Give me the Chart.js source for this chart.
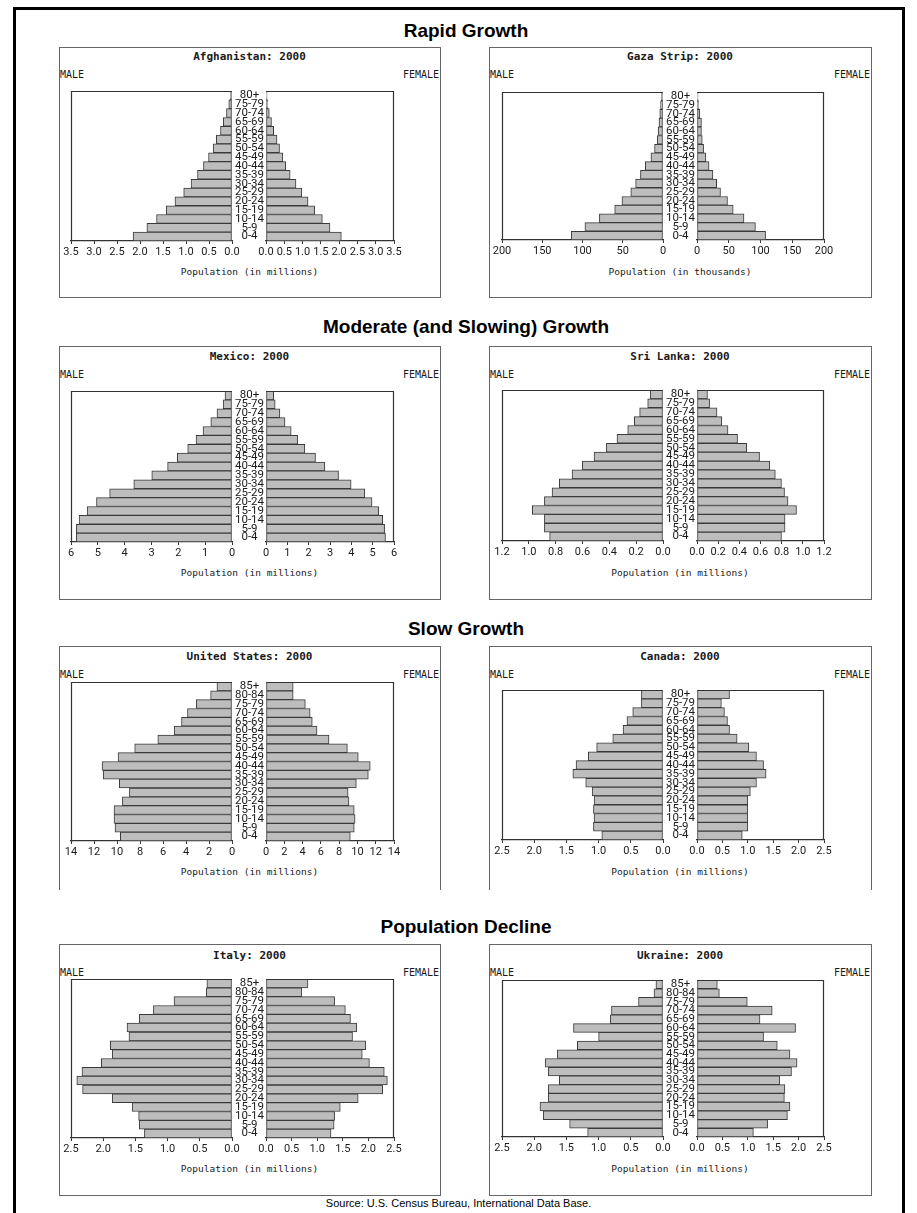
<!DOCTYPE html>
<html><head><meta charset="utf-8">
<script src="https://cdn.jsdelivr.net/npm/chart.js@4.4.1/dist/chart.umd.min.js"></script>
<style>
html,body{margin:0;padding:0;background:#fff;}
body{width:917px;height:1213px;position:relative;overflow:hidden;}
.frame{position:absolute;left:13px;top:7px;width:892px;height:1230px;border:3px solid #000;box-sizing:border-box;}
.sec{position:absolute;left:66px;width:800px;text-align:center;font:bold 19px "Liberation Sans",Arial,sans-serif;color:#000;line-height:20px;height:20px;}
.box{position:absolute;border:1px solid #666;box-sizing:border-box;}
.t{position:absolute;white-space:nowrap;color:#1a1a1a;}
.ptitle{font:bold 11px "DejaVu Sans Mono",monospace;line-height:12px;text-align:center;width:300px;}
.sex{font:10px "DejaVu Sans Mono",monospace;line-height:11px;}
.axt{font:9.5px "DejaVu Sans Mono",monospace;line-height:11px;text-align:center;width:300px;}
.src{position:absolute;left:0;width:917px;text-align:center;font:11px "Liberation Sans",Arial,sans-serif;color:#000;line-height:12px;}
canvas{position:absolute;}
</style></head>
<body>
<div class="frame"></div>
<script>
// ---------- DATA ----------
const ages17 = ['80+','75-79','70-74','65-69','60-64','55-59','50-54','45-49','40-44','35-39','30-34','25-29','20-24','15-19','10-14','5-9','0-4'];
const ages18 = ['85+','80-84','75-79','70-74','65-69','60-64','55-59','50-54','45-49','40-44','35-39','30-34','25-29','20-24','15-19','10-14','5-9','0-4'];

const afghanistanMale   = [0.04,0.07,0.12,0.19,0.25,0.34,0.41,0.51,0.62,0.75,0.89,1.05,1.24,1.43,1.64,1.85,2.15];
const afghanistanFemale = [0.03,0.05,0.09,0.15,0.21,0.30,0.37,0.46,0.54,0.66,0.82,0.98,1.15,1.33,1.54,1.75,2.06];
const gazaMale   = [2,3,4,5,6,7,10.5,15,22,28,34,40,51,60,79,97,114];
const gazaFemale = [1.7,2.5,4.5,7,7,8.3,10.4,14,19,25,31,37,48,57,74,92,108];
const mexicoMale   = [0.26,0.33,0.56,0.79,1.08,1.34,1.65,2.04,2.4,2.99,3.66,4.56,5.05,5.4,5.7,5.8,5.8];
const mexicoFemale = [0.36,0.43,0.65,0.89,1.18,1.49,1.82,2.32,2.76,3.4,3.99,4.63,4.97,5.28,5.47,5.56,5.6];
const sriLankaMale   = [0.094,0.114,0.174,0.214,0.263,0.343,0.422,0.514,0.601,0.678,0.773,0.827,0.884,0.974,0.884,0.884,0.845];
const sriLankaFemale = [0.099,0.119,0.189,0.234,0.293,0.383,0.47,0.591,0.688,0.74,0.798,0.827,0.86,0.94,0.832,0.832,0.798];
const usMale   = [1.31,1.86,3.11,3.87,4.39,5.03,6.45,8.46,9.91,11.3,11.2,9.8,8.92,9.53,10.26,10.26,10.17,9.71];
const usFemale = [2.97,2.97,4.3,4.83,5.06,5.58,6.89,8.9,10.09,11.4,11.19,9.88,8.98,9.07,9.65,9.74,9.65,9.22];
const canadaMale   = [0.335,0.335,0.47,0.56,0.62,0.78,1.03,1.16,1.35,1.40,1.2,1.1,1.07,1.08,1.07,1.08,0.95];
const canadaFemale = [0.64,0.48,0.54,0.6,0.64,0.79,1.02,1.17,1.31,1.36,1.17,1.05,1.0,1.0,1.0,1.0,0.89];
const italyMale   = [0.39,0.40,0.9,1.22,1.44,1.63,1.6,1.89,1.86,2.03,2.33,2.41,2.32,1.86,1.55,1.45,1.44,1.36];
const italyFemale = [0.82,0.70,1.34,1.55,1.65,1.77,1.69,1.95,1.88,2.02,2.31,2.37,2.28,1.8,1.45,1.34,1.33,1.27];
const ukraineMale   = [0.11,0.14,0.38,0.8,0.82,1.39,1.0,1.33,1.64,1.83,1.78,1.61,1.78,1.78,1.91,1.86,1.45,1.17];
const ukraineFemale = [0.4,0.44,0.99,1.48,1.24,1.94,1.31,1.58,1.83,1.97,1.86,1.63,1.73,1.72,1.83,1.78,1.39,1.11];

const ticksAfghanistan = ['0.0','0.5','1.0','1.5','2.0','2.5','3.0','3.5'];
const ticksGaza = ['0','50','100','150','200'];
const ticksMexico = ['0','1','2','3','4','5','6'];
const ticksSriLanka = ['0.0','0.2','0.4','0.6','0.8','1.0','1.2'];
const ticksUS = ['0','2','4','6','8','10','12','14'];
const ticks25 = ['0.0','0.5','1.0','1.5','2.0','2.5'];

const sectionTitles = ['Rapid Growth','Moderate (and Slowing) Growth','Slow Growth','Population Decline'];
const sourceText = 'Source: U.S. Census Bureau, International Data Base.';

// ---------- LAYOUT ----------
const cols = [
  {boxL:59, boxR:441, maleL:71, maleW:161, gap:34, femL:266, femW:162},
  {boxL:489, boxR:872, maleL:502, maleW:161, gap:34, femL:697, femW:161}
];
const rows = [
  {secY:31, boxT:47, boxB:298, titleY:57, sexY:75, axY:272, bottomBorder:true},
  {secY:327, boxT:346, boxB:600, titleY:357, sexY:375, axY:573, bottomBorder:true},
  {secY:629, boxT:646, boxB:890, titleY:657, sexY:675, axY:872, bottomBorder:false},
  {secY:927, boxT:944, boxB:1196, titleY:956, sexY:973, axY:1169, bottomBorder:true}
];
const panels = [
  {row:0,col:0,title:'Afghanistan: 2000',ages:ages17,male:afghanistanMale,female:afghanistanFemale,ticks:ticksAfghanistan,unit:'millions',pT:91,pB:241},
  {row:0,col:1,title:'Gaza Strip: 2000',ages:ages17,male:gazaMale,female:gazaFemale,ticks:ticksGaza,unit:'thousands',pT:92,pB:240},
  {row:1,col:0,title:'Mexico: 2000',ages:ages17,male:mexicoMale,female:mexicoFemale,ticks:ticksMexico,unit:'millions',pT:391,pB:542},
  {row:1,col:1,title:'Sri Lanka: 2000',ages:ages17,male:sriLankaMale,female:sriLankaFemale,ticks:ticksSriLanka,unit:'millions',pT:390,pB:541},
  {row:2,col:0,title:'United States: 2000',ages:ages18,male:usMale,female:usFemale,ticks:ticksUS,unit:'millions',pT:682,pB:841},
  {row:2,col:1,title:'Canada: 2000',ages:ages17,male:canadaMale,female:canadaFemale,ticks:ticks25,unit:'millions',pT:690,pB:840},
  {row:3,col:0,title:'Italy: 2000',ages:ages18,male:italyMale,female:italyFemale,ticks:ticks25,unit:'millions',pT:979,pB:1138},
  {row:3,col:1,title:'Ukraine: 2000',ages:ages18,male:ukraineMale,female:ukraineFemale,ticks:ticks25,unit:'millions',pT:980,pB:1137}
];

function addDiv(cls, text, css){
  const d=document.createElement('div'); d.className=cls; d.textContent=text;
  Object.assign(d.style, css); document.body.appendChild(d); return d;
}

sectionTitles.forEach((s,i)=>addDiv('sec', s, {top:(rows[i].secY-10)+'px'}));
addDiv('src', sourceText, {top:'1197px'});

const outline = {
  id:'outline',
  afterDraw(chart, args, opts){
    const {ctx, chartArea:a} = chart;
    ctx.save(); ctx.strokeStyle='#333'; ctx.lineWidth=1.2; ctx.beginPath();
    if(opts.side==='left'){
      ctx.moveTo(Math.round(a.left)+0.5, a.bottom);
      ctx.lineTo(Math.round(a.left)+0.5, Math.round(a.top)+0.5);
      ctx.lineTo(a.right, Math.round(a.top)+0.5);
    } else {
      ctx.moveTo(a.left, Math.round(a.top)+0.5);
      ctx.lineTo(Math.round(a.right)-0.5, Math.round(a.top)+0.5);
      ctx.lineTo(Math.round(a.right)-0.5, a.bottom);
    }
    ctx.stroke(); ctx.restore();
  }
};

const PADT = 16, XAXH = 22, PADS = 14;
const tickFont = {family:'Roboto, "Liberation Sans", sans-serif', size:11};
const ageFont = {family:'Roboto, "Liberation Sans", sans-serif', size:11.5};

function makeChart(p, isMale){
  const c = cols[p.col];
  const plotH = p.pB - p.pT;
  const max = parseFloat(p.ticks[p.ticks.length-1]);
  const step = parseFloat(p.ticks[1]);
  const cv = document.createElement('canvas');
  let left, width;
  if(isMale){ left = c.maleL - PADS; width = PADS + c.maleW + c.gap; }
  else { left = c.femL - PADS; width = PADS + c.femW + PADS; }
  const height = PADT + plotH + XAXH;
  cv.width = width; cv.height = height;
  cv.style.left = left+'px'; cv.style.top = (p.pT-PADT)+'px';
  cv.style.width = width+'px'; cv.style.height = height+'px';
  document.body.appendChild(cv);
  new Chart(cv, {
    type:'bar',
    data:{labels:p.ages, datasets:[{
      data: isMale ? p.male : p.female,
      backgroundColor:'#bdbdbd', borderColor:'#3a3a3a', borderWidth:1, borderSkipped:false,
      categoryPercentage:1, barPercentage:1
    }]},
    options:{
      indexAxis:'y', responsive:false, animation:false, devicePixelRatio:1,
      layout:{padding:{left:PADS, right:isMale?0:PADS, top:PADT, bottom:0}},
      plugins:{legend:{display:false}, tooltip:{enabled:false}, outline:{side:isMale?'left':'right'}},
      scales:{
        x:{
          type:'linear', min:0, max:max, reverse:isMale,
          afterFit:s=>{s.height=XAXH;},
          grid:{display:true, drawOnChartArea:false, drawTicks:true, tickLength:3, color:'#333'},
          border:{display:true, color:'#333', width:1.2},
          ticks:{stepSize:step, autoSkip:false, maxRotation:0, minRotation:0, padding:2,
                 color:'#1a1a1a', font:tickFont,
                 callback:(v)=>p.ticks[Math.round(v/step)]}
        },
        y:{
          type:'category', display:isMale, position:'right', offset:true,
          afterFit:s=>{s.width=c.gap;},
          grid:{display:false, drawTicks:false, tickLength:0}, border:{display:false},
          ticks:{autoSkip:false, crossAlign:'center', padding:3, color:'#1a1a1a', font:ageFont}
        }
      }
    },
    plugins:[outline]
  });
}

panels.forEach(p=>{
  const c = cols[p.col], r = rows[p.row];
  const bx = addDiv('box','',{left:c.boxL+'px', top:r.boxT+'px', width:(c.boxR-c.boxL)+'px', height:(r.boxB-r.boxT)+'px'});
  if(!r.bottomBorder) bx.style.borderBottom='none';
  const center = (c.maleL + c.femL + c.femW)/2;
  addDiv('t ptitle', p.title, {left:(center-150)+'px', top:(r.titleY-6)+'px'});
  addDiv('t sex', 'MALE', {left:(c.boxL+1)+'px', top:(r.sexY-6)+'px'});
  const fe = addDiv('t sex', 'FEMALE', {top:(r.sexY-6)+'px'});
  fe.style.right = (917 - c.boxR + 2)+'px';
  addDiv('t axt', 'Population (in '+p.unit+')', {left:(center-150)+'px', top:(r.axY-6)+'px'});
  makeChart(p, true);
  makeChart(p, false);
});
</script>
</body></html>
